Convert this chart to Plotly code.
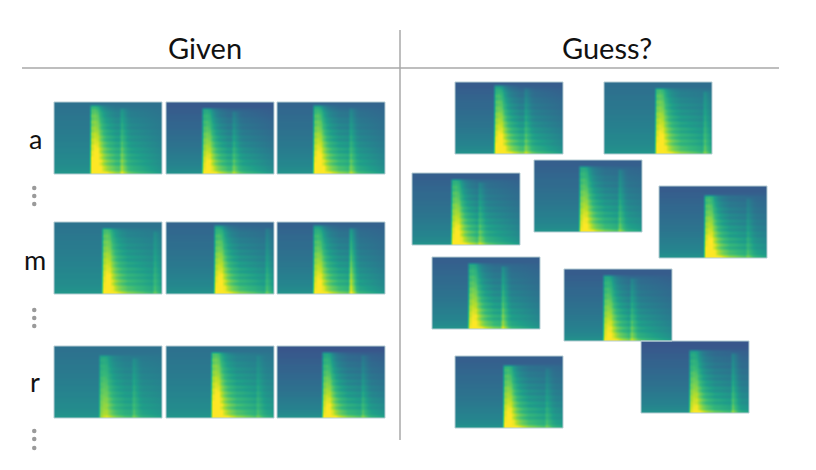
import plotly.graph_objects as go

# spectrogram grid size (time columns x frequency rows)
N_ROWS = 24
N_COLS = 36

# frequency profiles, bottom row first
bg_row = [0.53, 0.51, 0.50, 0.49, 0.49, 0.48, 0.48, 0.47, 0.47, 0.46, 0.46, 0.45,
          0.45, 0.44, 0.44, 0.43, 0.43, 0.43, 0.42, 0.42, 0.41, 0.41, 0.40, 0.40]
blue_row = [0.2, 0.3, 0.35, 0.4, 0.45, 0.5, 0.55, 0.6, 0.65, 0.7, 0.72, 0.75,
            0.78, 0.8, 0.83, 0.85, 0.88, 0.9, 0.92, 0.94, 0.96, 0.98, 1.0, 1.0]
strike_row = [1.00, 1.00, 0.98, 1.00, 0.94, 0.98, 0.90, 0.94, 0.84, 0.90, 0.80, 0.86,
              0.76, 0.82, 0.70, 0.76, 0.66, 0.72, 0.62, 0.68, 0.60, 0.58, 0.48, 0.25]
sustain_row = [1.20, 0.80, 0.88, 0.62, 0.85, 0.58, 0.78, 0.52, 0.70, 0.48, 0.62, 0.40,
               0.55, 0.36, 0.48, 0.30, 0.42, 0.26, 0.34, 0.20, 0.26, 0.15, 0.08, 0.03]

# time profiles, columns after the onset
strike_time = [1.00, 1.00, 0.80, 0.45, 0.25, 0.14, 0.08, 0.04]
tail_time = [0.00, 0.20, 0.45, 0.60, 0.62, 0.60, 0.57, 0.54, 0.50, 0.47, 0.44, 0.40,
             0.37, 0.34, 0.30, 0.27, 0.24, 0.21, 0.18, 0.15, 0.12, 0.09, 0.06, 0.03]
second_time = [0.80, 0.45, 0.12]

# per-clip values: a1 a2 a3 m1 m2 m3 r1 r2 r3, then the nine unknown clips
onset_col = [12, 12, 12, 16, 16, 12, 15, 15, 15, 13, 17, 13, 15, 15, 12, 13, 16, 16]
top_row = [22, 21, 22, 21, 22, 22, 20, 21, 21, 22, 21, 21, 21, 20, 21, 21, 20, 20]
gain = [0.55, 0.50, 0.55, 0.50, 0.52, 0.50, 0.32, 0.55, 0.50,
        0.55, 0.52, 0.52, 0.48, 0.55, 0.48, 0.48, 0.52, 0.44]
second_col = [22, 22, 24, 33, 33, 24, 26, 30, 28, 23, 33, 22, 28, 29, 23, 22, 30, 30]
second_gain = [0.20, 0.16, 0.18, 0.14, 0.16, 0.38, 0.14, 0.10, 0.14,
               0.16, 0.18, 0.16, 0.18, 0.12, 0.26, 0.18, 0.12, 0.22]
bg_shift = [-0.03, -0.12, -0.08, -0.02, -0.08, -0.09, -0.03, -0.03, -0.13,
            -0.11, -0.04, -0.10, -0.10, -0.11, -0.10, -0.11, -0.10, -0.13]

row_labels = ["a", "m", "r"]

# where each clip sits on the page (left, top) in pixels
placement = [(54, 102), (166, 102), (277, 102),
             (54, 222), (166, 222), (277, 222),
             (54, 346), (166, 346), (277, 346),
             (455, 82), (604, 82), (412, 173), (534, 160), (659, 186),
             (432, 257), (564, 269), (455, 356), (641, 341)]
IMG_W, IMG_H = 108, 72
PAGE_PAD = 8  # the html body margin


def clip_matrix(k):
    z = []
    for r in range(N_ROWS):
        line = []
        for c in range(N_COLS):
            v = bg_row[r] + bg_shift[k] * blue_row[r]
            t = c - onset_col[k]
            if t >= 0 and r <= top_row[k]:
                s = strike_time[t] if t < len(strike_time) else 0
                tl = tail_time[t] if t < len(tail_time) else 0
                v += gain[k] * (strike_row[r] * s + sustain_row[r] * tl)
            t2 = c - second_col[k]
            if 0 <= t2 < len(second_time) and r <= top_row[k] - 1:
                v += second_gain[k] * strike_row[r] * second_time[t2]
            line.append(min(v, 1.0))
        z.append(line)
    return z[::-1]  # top row first for a downward y axis


fig = go.Figure()
shapes = []
for k, (x0, y0) in enumerate(placement):
    fig.add_trace(go.Heatmap(
        z=clip_matrix(k),
        x0=x0 + IMG_W / N_COLS / 2, dx=IMG_W / N_COLS,
        y0=y0 + IMG_H / N_ROWS / 2, dy=IMG_H / N_ROWS,
        colorscale="Viridis", zmin=0, zmax=1,
        showscale=False, hoverinfo="skip", zsmooth="best",
    ))
    shapes.append(dict(type="rect", x0=x0, x1=x0 + IMG_W, y0=y0, y1=y0 + IMG_H,
                       line=dict(color="#b5cdd3", width=1)))

# divider lines
shapes.append(dict(type="line", x0=22, x1=779, y0=68, y1=68,
                   line=dict(color="#a8a8a8", width=1.5)))
shapes.append(dict(type="line", x0=400, x1=400, y0=30, y1=440,
                   line=dict(color="#a8a8a8", width=1.5)))

# vertical ellipses
for ys in [(188, 196, 204), (310, 318, 326), (431, 439, 448)]:
    for yy in ys:
        shapes.append(dict(type="circle", x0=32, x1=36.5, y0=yy - 2.2, y1=yy + 2.2,
                           fillcolor="#9a9a9a", line=dict(width=0)))

annotations = [
    dict(x=205, y=47, text="Given", showarrow=False, font=dict(size=29, color="#111")),
    dict(x=607, y=47, text="Guess?", showarrow=False, font=dict(size=29, color="#111")),
]
for lab, yy in zip(row_labels, [138, 259, 381]):
    annotations.append(dict(x=35, y=yy, text=lab, showarrow=False,
                            font=dict(size=27, color="#111")))

fig.update_layout(
    width=816, height=470,
    margin=dict(l=0, r=0, t=0, b=0),
    paper_bgcolor="white", plot_bgcolor="white",
    font=dict(family="Lato, Noto Sans, sans-serif"),
    xaxis=dict(range=[PAGE_PAD, 816 + PAGE_PAD], visible=False, fixedrange=True),
    yaxis=dict(range=[470 + PAGE_PAD, PAGE_PAD], visible=False, fixedrange=True),
    shapes=shapes,
    annotations=annotations,
    showlegend=False,
)

fig.write_html("out.html")
